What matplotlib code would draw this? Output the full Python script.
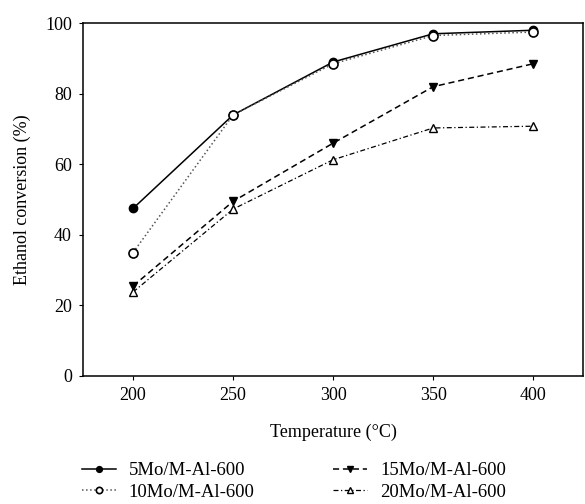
import matplotlib
matplotlib.use("Agg")
import matplotlib.pyplot as plt

plt.rcParams['font.family'] = ['Liberation Serif', 'DejaVu Serif']

temperature = [200, 250, 300, 350, 400]
mo5 = [47.5, 74.0, 89.0, 97.0, 98.0]
mo10 = [35.0, 74.0, 88.5, 96.5, 97.5]
mo15 = [25.5, 49.5, 66.0, 82.0, 88.5]
mo20 = [23.8, 47.3, 61.3, 70.3, 70.8]
labels = ["5Mo/M-Al-600", "10Mo/M-Al-600", "15Mo/M-Al-600", "20Mo/M-Al-600"]
xticks = [200, 250, 300, 350, 400]
yticks = [0, 20, 40, 60, 80, 100]

fig = plt.figure(figsize=(5.85, 5.04), dpi=100)
ax = fig.add_axes([0.142, 0.254, 0.855, 0.700])

ax.plot(temperature, mo5, color='black', linestyle='-', linewidth=1.1,
        marker='o', markersize=6, markerfacecolor='black', label=labels[0])
ax.plot(temperature, mo10, color='#555555', linestyle=':', linewidth=1.1,
        marker='o', markersize=6.5, markerfacecolor='white',
        markeredgecolor='black', markeredgewidth=1.2, label=labels[1])
ax.plot(temperature, mo15, color='black', linestyle=(0, (4, 2.5)), linewidth=1.1,
        marker='v', markersize=6, markerfacecolor='black', label=labels[2])
ax.plot(temperature, mo20, color='black', linestyle=(0, (4, 2, 1, 2)), linewidth=0.9,
        marker='^', markersize=5.5, markerfacecolor='white',
        markeredgecolor='black', label=labels[3])

ax.set_xlim(175, 425)
ax.set_ylim(0, 100)
ax.set_xticks(xticks)
ax.set_yticks(yticks)
ax.tick_params(direction='out', length=3, width=0.8, labelsize=13, pad=5)
for s in ax.spines.values():
    s.set_linewidth(1.1)

ax.set_xlabel("Temperature (°C)", fontsize=13, labelpad=14)
ax.set_ylabel("Ethanol conversion (%)", fontsize=13, labelpad=10)

handles, lbls = ax.get_legend_handles_labels()
leg = fig.legend(handles, lbls, loc='lower left', bbox_to_anchor=(0.140, 0.006),
                 ncol=2, frameon=False, fontsize=13.5, columnspacing=4.2,
                 handlelength=1.8, handletextpad=0.7, labelspacing=0.25,
                 borderpad=0, borderaxespad=0, markerscale=0.7)

fig.savefig("out.png", dpi=100)
